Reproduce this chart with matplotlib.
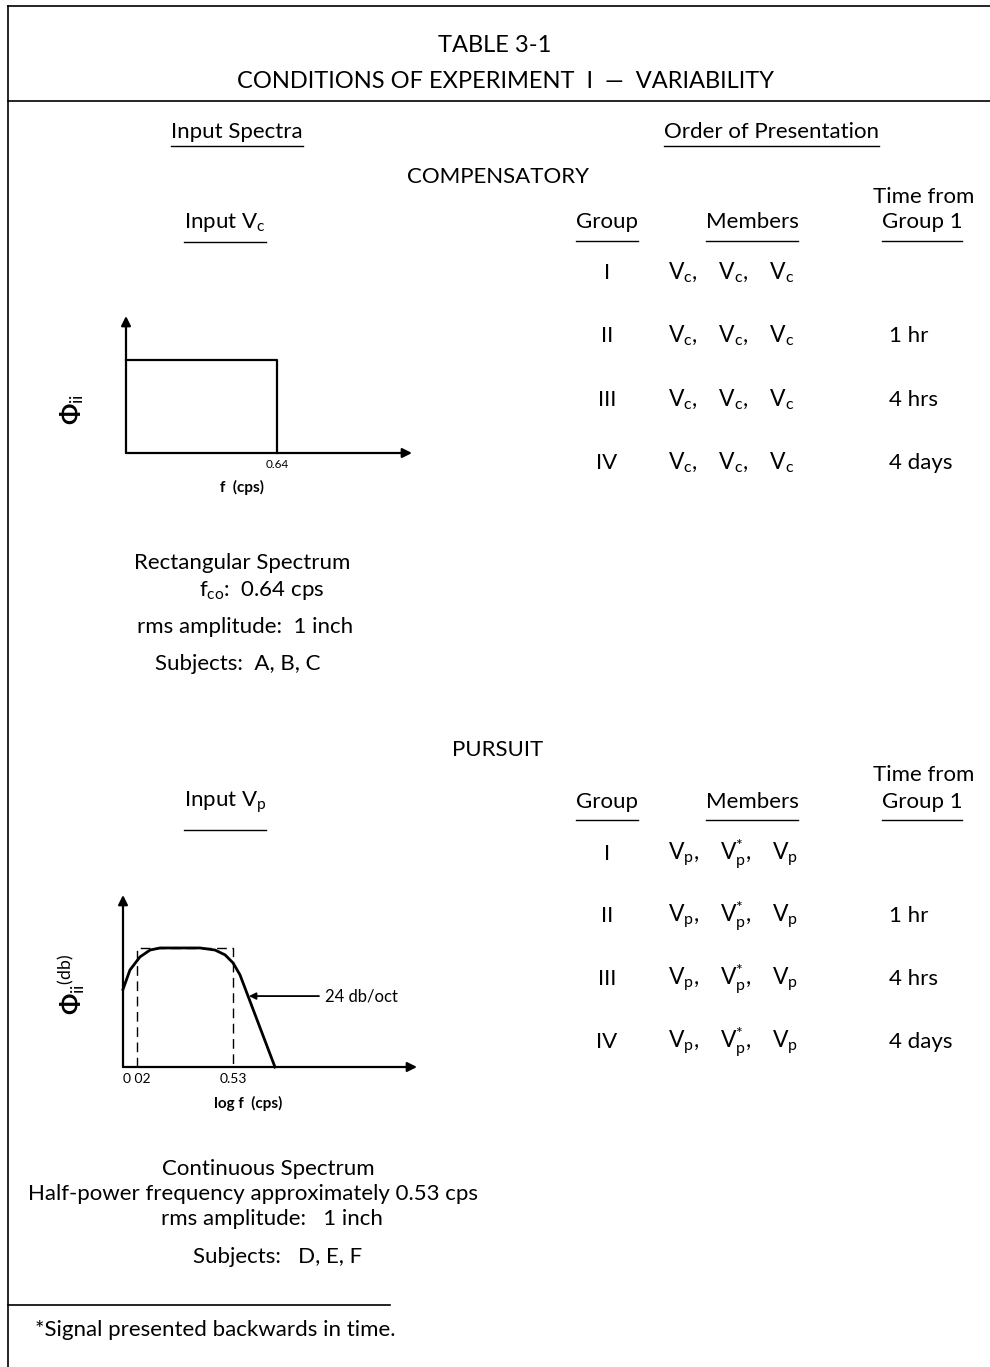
import matplotlib
matplotlib.use('Agg')
import matplotlib.pyplot as plt
from matplotlib.lines import Line2D

plt.rcParams['font.family'] = ['Lato', 'DejaVu Sans']
plt.rcParams['mathtext.fontset'] = 'custom'
plt.rcParams['mathtext.rm'] = 'Lato'
plt.rcParams['mathtext.it'] = 'Lato:italic'
plt.rcParams['mathtext.bf'] = 'Lato:bold'

#### data ####
groups = ['I', 'II', 'III', 'IV']
comp_members = [r'$\mathrm{V_c,\quad V_c,\quad V_c}$'] * 4
purs_members = [r'$\mathrm{V_p,\quad V_p^{*},\quad V_p}$'] * 4
times = ['', '1 hr', '4 hrs', '4 days']

# rectangular spectrum (compensatory)
rect_f = [0.0, 0.64, 0.64]
rect_phi = [1.0, 1.0, 0.0]
rect_ticks = [0.64]

# continuous spectrum (pursuit), log f vs db
cont_f = [0.0124, 0.0157, 0.0221, 0.0312, 0.0439, 0.171, 0.286, 0.403, 0.53, 0.671, 2.21]
cont_db = [-18.0, -9.6, -3.9, -0.9, 0.0, 0.0, -0.9, -3.0, -6.5, -11.7, -51.7]
cont_band = [0.02, 0.53]
cont_ticks = ['0 02', '0.53']

W, H = 990, 1367
BODY = 16
fig = plt.figure(figsize=(W / 100, H / 100), dpi=100)


def put(x, y, s, size=BODY, ha='center', va='center', **kw):
    return fig.text(x / W, 1 - y / H, s, fontsize=size, ha=ha, va=va, **kw)


def hline(x0, x1, y, lw=1.2):
    fig.add_artist(Line2D([x0 / W, x1 / W], [1 - y / H, 1 - y / H], color='k', lw=lw))


def vline(x, y0, y1, lw=1.2):
    fig.add_artist(Line2D([x / W, x / W], [1 - y0 / H, 1 - y1 / H], color='k', lw=lw))


def underline(t, y):
    r = fig.canvas.get_renderer()
    bb = t.get_window_extent(r)
    hline(bb.x0, bb.x1, y, lw=1.0)


# frame of the table
hline(8, W, 6)
hline(8, W, 101)
vline(8, 6, H)
hline(8, 390, 1305)

# headings
put(495, 46, 'TABLE 3-1', size=17)
put(506, 81, 'CONDITIONS OF EXPERIMENT  I  —  VARIABILITY', size=17)

t = put(237, 132, 'Input Spectra')
underline(t, 146)
t = put(771, 132, 'Order of Presentation')
underline(t, 146)

# two sections: compensatory and pursuit
sections = [
    dict(title='COMPENSATORY', ty=177, tf=197, head=222, uline=241, inp=r'Input $\mathrm{V_c}$',
         inp_ul=242, rows=[279, 342, 406, 469], members=comp_members),
    dict(title='PURSUIT', ty=750, tf=775, head=802, uline=820, inp=r'Input $\mathrm{V_p}$',
         inp_ul=830, rows=[860, 922, 985, 1048], members=purs_members),
]

for s in sections:
    put(498, s['ty'], s['title'])
    put(924, s['tf'], 'Time from')
    for x, lab in [(607, 'Group'), (752, 'Members'), (922, 'Group 1')]:
        t = put(x, s['head'], lab)
        underline(t, s['uline'])
    t = put(225, s['head'], s['inp'])
    underline(t, s['inp_ul'])
    for g, m, tm, y in zip(groups, s['members'], times, s['rows']):
        put(607, y, g, va='baseline')
        put(668, y, m, size=16.5, ha='left', va='baseline')
        put(889, y, tm, ha='left', va='baseline')

# ---- rectangular spectrum plot ----
ax1 = fig.add_axes([126 / W, 1 - 453 / H, (412 - 126) / W, (453 - 316) / H])
ax1.set_xlim(0, 1.21)
ax1.set_ylim(0, 1.47)
ax1.axis('off')
ax1.plot([0] + rect_f, [rect_phi[0]] + rect_phi, color='k', lw=1.6, clip_on=False)
arr = dict(arrowstyle='-|>', color='k', lw=1.6, mutation_scale=14, shrinkA=0, shrinkB=0)
ax1.annotate('', xy=(1.21, 0), xytext=(0, 0), arrowprops=arr, annotation_clip=False)
ax1.annotate('', xy=(0, 1.47), xytext=(0, 0), arrowprops=arr, annotation_clip=False)
for f in rect_ticks:
    ax1.annotate('%.2f' % f, xy=(f, 0), xytext=(0, -4), textcoords='offset points',
                 ha='center', va='top', fontsize=8.5)
put(242, 487, 'f  (cps)', size=11, weight='bold')
put(72, 410, r'$\mathbf{\Phi}_{\mathrm{ii}}$', size=18, rotation=90)

put(242, 563, 'Rectangular Spectrum')
put(262, 590, r'$\mathrm{f_{co}}$:  0.64 cps')
put(245, 627, 'rms amplitude:  1 inch')
put(238, 664, 'Subjects:  A, B, C')

# ---- continuous spectrum plot ----
ax2 = fig.add_axes([123 / W, 1 - 1067 / H, (417 - 123) / W, (1067 - 895) / H])
ax2.set_xscale('log')
x0, x1, y0, y1 = 0.0124, 281, -51.7, 23
ax2.set_xlim(x0, x1)
ax2.set_ylim(y0, y1)
ax2.axis('off')
ax2.plot(cont_f, cont_db, color='k', lw=2.0, clip_on=False)
b0, b1 = cont_band
ax2.plot([b0, b0, b1, b1], [y0, 0, 0, y0], color='k', lw=1.0, ls=(0, (7, 4)))
ax2.annotate('', xy=(x1, y0), xytext=(x0, y0), arrowprops=arr, annotation_clip=False)
ax2.annotate('', xy=(x0, y1), xytext=(x0, y0), arrowprops=arr, annotation_clip=False)
for f, lab in zip(cont_band, cont_ticks):
    ax2.annotate(lab, xy=(f, y0), xytext=(0, -4), textcoords='offset points',
                 ha='center', va='top', fontsize=10)
ax2.annotate('24 db/oct', xy=(0.91, -20.9), xytext=(12, -20.9), ha='left', va='center',
             fontsize=12, arrowprops=dict(arrowstyle='-|>', color='k', lw=1.3,
                                          mutation_scale=10, shrinkA=2, shrinkB=0))
put(248, 1103, 'log f  (cps)', size=11, weight='bold')
put(70, 985, r'$\mathbf{\Phi}_{\mathrm{ii}}{}^{\mathrm{(db)}}$', size=18, rotation=90)

put(268, 1169, 'Continuous Spectrum')
put(253, 1194, 'Half-power frequency approximately 0.53 cps')
put(272, 1219, 'rms amplitude:   1 inch')
put(278, 1257, 'Subjects:   D, E, F')

put(35, 1330, '*Signal presented backwards in time.', ha='left')

fig.savefig('out.png', dpi=100)
